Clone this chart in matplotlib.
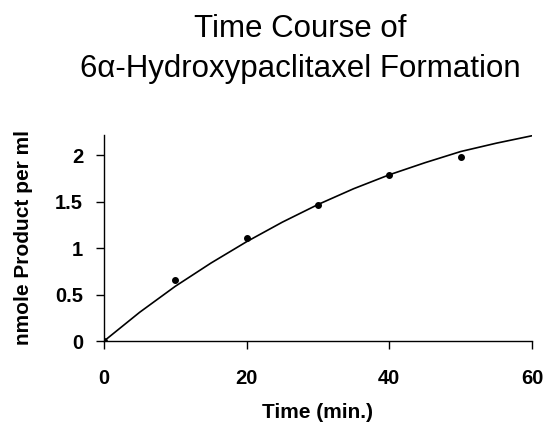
import matplotlib.pyplot as plt

plt.rcParams['font.family'] = ['Liberation Sans', 'DejaVu Sans']

# measured points
time_min = [0, 10, 20, 30, 40, 50]
nmole_product = [0.0, 0.66, 1.11, 1.47, 1.79, 1.98]

# fitted curve
curve_time = [0, 5, 10, 15, 20, 25, 30, 35, 40, 45, 50, 55, 60]
curve_nmole = [0.0, 0.31, 0.59, 0.84, 1.07, 1.28, 1.47, 1.64, 1.79, 1.92, 2.04, 2.13, 2.21]

x_ticks = [0, 20, 40, 60]
y_ticks = [0, 0.5, 1, 1.5, 2]
y_tick_labels = ['0', '0.5', '1', '1.5', '2']

fig = plt.figure(figsize=(5.53, 4.28), dpi=100)
ax = fig.add_axes([0.188, 0.203, 0.774, 0.482])

# Plot
ax.plot(curve_time, curve_nmole, color='black', linewidth=1.2)
ax.plot(time_min, nmole_product, 'o', color='black', markersize=4)

ax.set_xlim(0, 60)
ax.set_ylim(0, 2.22)
ax.set_xticks(x_ticks)
ax.set_xticklabels([str(t) for t in x_ticks])
ax.set_yticks(y_ticks)
ax.set_yticklabels(y_tick_labels)

for side in ['top', 'right']:
  ax.spines[side].set_visible(False)
for side in ['left', 'bottom']:
  ax.spines[side].set_linewidth(1.0)

ax.tick_params(axis='x', direction='out', length=6, width=1, pad=14, labelsize=14.5)
ax.tick_params(axis='y', direction='out', length=6, width=1, pad=9, labelsize=14.5)
for lab in ax.get_xticklabels() + ax.get_yticklabels():
  lab.set_fontweight('bold')

# Set labels
ax.set_xlabel('Time (min.)', fontsize=15, fontweight='bold', labelpad=11)
ax.set_ylabel('nmole Product per ml', fontsize=15, fontweight='bold', labelpad=16)
fig.text(0.543, 0.968, 'Time Course of\n6α-Hydroxypaclitaxel Formation',
         ha='center', va='top', fontsize=22.5, linespacing=1.45)

fig.savefig('out.png', dpi=100)
